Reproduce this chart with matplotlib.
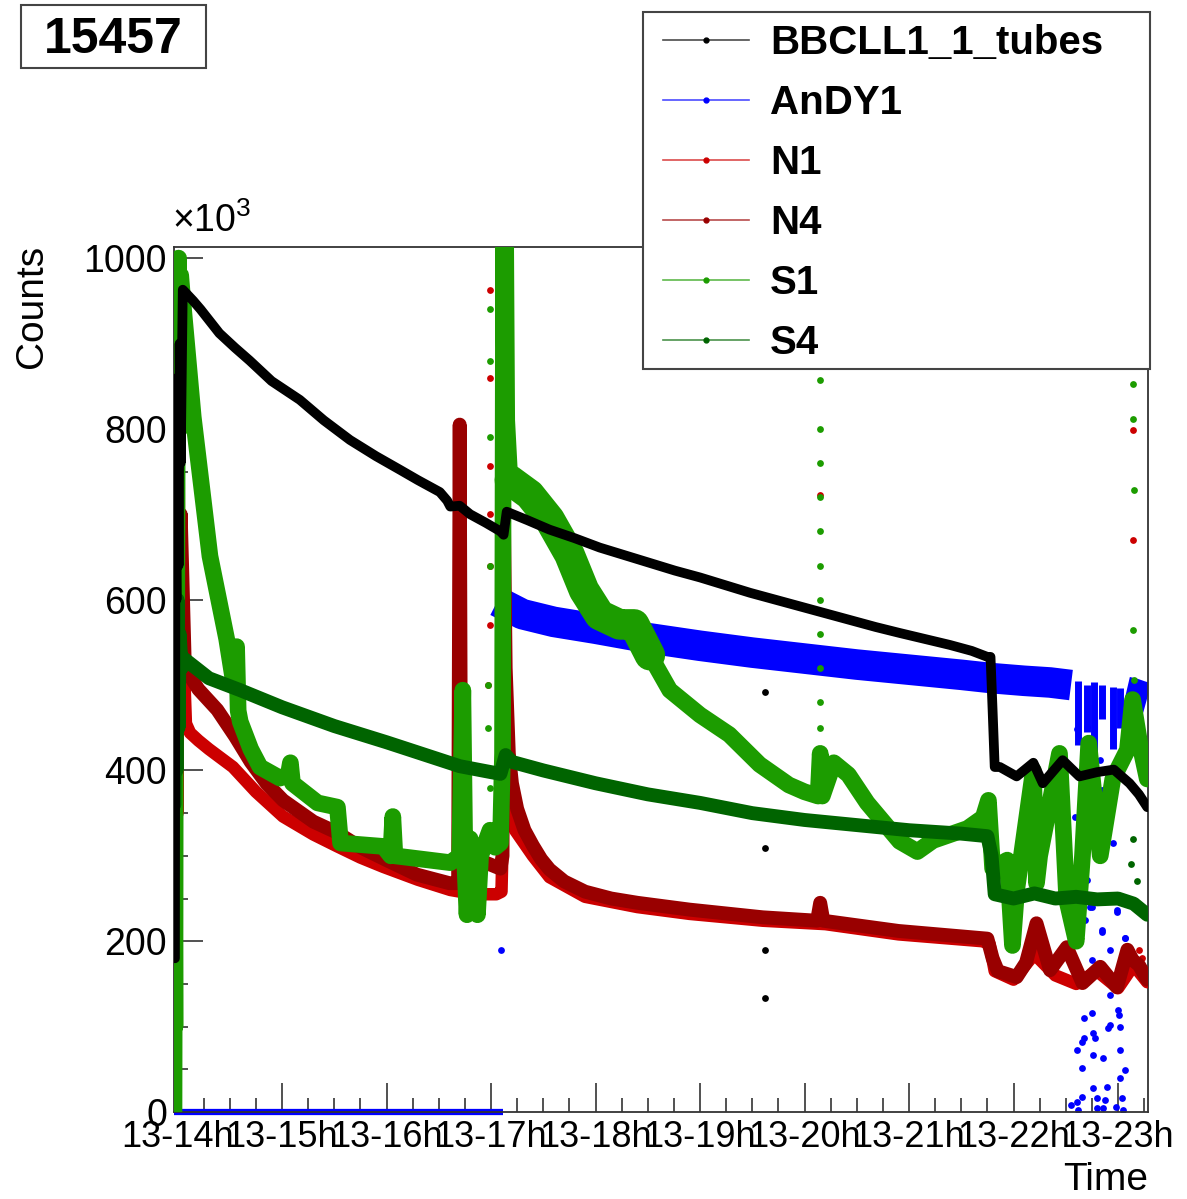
import matplotlib
matplotlib.use('Agg')
import matplotlib.pyplot as plt
import numpy as np
from matplotlib.patches import Rectangle
from matplotlib.lines import Line2D

plt.rcParams['font.family'] = ['Liberation Sans', 'DejaVu Sans']
plt.rcParams['mathtext.fontset'] = 'custom'
plt.rcParams['mathtext.rm'] = 'Liberation Sans'

W, H = 1187, 1199  # output size in pixels


def fx(x):
    return x / W


def fy(y):
    return 1 - y / H


# ---- data: time in hours (day 13), counts in thousands ----
run_number = "15457"
series_names = ["BBCLL1_1_tubes", "AnDY1", "N1", "N4", "S1", "S4"]
series_colors = ["#000000", "#0000ff", "#cc0000", "#990000", "#1c9c00", "#006400"]
hour_ticks = list(range(14, 24))
hour_labels = ["13-%dh" % h for h in hour_ticks]

bbc = [(13.975, 180), (13.98, 720), (13.99, 600), (14.00, 860), (14.01, 640), (14.02, 900),
       (14.03, 760), (14.05, 963), (14.15, 950), (14.22, 940), (14.4, 912), (14.55, 895),
       (14.69, 880), (14.9, 856), (15.17, 834), (15.4, 810), (15.65, 787), (15.9, 768),
       (16.13, 752), (16.3, 740), (16.51, 726), (16.58, 716), (16.61, 709), (16.70, 710),
       (16.80, 700), (16.95, 690), (17.09, 680), (17.12, 676), (17.15, 703), (17.35, 693),
       (17.56, 682), (17.8, 672), (18.04, 661), (18.28, 652), (18.52, 643), (18.76, 634),
       (19.0, 626), (19.24, 617), (19.48, 608), (19.72, 600), (19.96, 592), (20.2, 584),
       (20.44, 576), (20.68, 568), (20.91, 561), (21.15, 554), (21.39, 547), (21.6, 540),
       (21.75, 533), (21.78, 533), (21.80, 470), (21.82, 404), (21.87, 404), (22.03, 393),
       (22.19, 409), (22.28, 385), (22.47, 412), (22.63, 393), (22.80, 398), (22.96, 401),
       (23.11, 385), (23.2, 372), (23.28, 357)]
bbc_dots = [(19.62, 492), (19.62, 309), (19.62, 190), (19.62, 134), (17.13, 688)]

andy_off = [(13.966, 0), (17.11, 0)]
andy = [(17.06, 598), (17.3, 583), (17.6, 574), (18.0, 566), (18.5, 555), (19.0, 546),
        (19.5, 538), (20.0, 531), (20.5, 524), (21.0, 518), (21.5, 512), (21.8, 508),
        (22.1, 505), (22.35, 503), (22.55, 500), (np.nan, np.nan),
        (23.08, 492), (23.15, 490), (23.22, 487), (23.28, 485)]
andy_streak_t = [22.62, 22.70, 22.77, 22.85, 22.95, 23.02]
andy_streak_lo = [430, 445, 415, 460, 425, 450]
andy_streak_hi = [505, 500, 503, 500, 498, 496]
andy_dots = [(17.10, 190), (22.61, 448), (22.70, 451), (22.76, 412), (22.83, 412), (22.59, 346),
             (22.85, 377), (22.70, 272), (22.73, 240), (22.95, 315), (22.99, 237), (22.85, 213),
             (23.07, 204), (22.85, 211), (22.92, 190), (22.75, 178), (23.07, 204), (22.99, 234),
             (22.75, 240), (22.68, 225), (22.67, 110), (22.75, 116), (22.67, 87), (22.66, 82),
             (22.76, 92), (22.78, 87), (22.61, 73), (22.66, 52), (22.76, 67), (22.86, 63),
             (22.90, 98), (22.92, 102), (23.00, 120), (23.01, 114), (23.02, 100), (23.02, 73),
             (23.07, 49), (23.02, 40), (22.76, 28), (22.89, 29), (22.66, 18), (22.61, 12),
             (22.80, 16), (22.88, 14), (23.04, 16), (22.62, 2), (22.80, 5), (22.86, 5),
             (23.05, 2), (22.92, 137), (22.55, 8), (22.98, 6)]

n1 = [(13.966, 0), (13.97, 150), (13.975, 40), (13.98, 420), (13.985, 250), (13.99, 600),
      (14.0, 350), (14.01, 780), (14.02, 520), (14.03, 700), (14.05, 560), (14.08, 455),
      (14.12, 444), (14.2, 435), (14.3, 425), (14.53, 404), (14.75, 375), (15.01, 346),
      (15.3, 325), (15.53, 311), (15.75, 298), (15.97, 287), (16.3, 272), (16.61, 260),
      (16.8, 256), (16.95, 255), (17.05, 255), (17.10, 258), (17.13, 420), (17.16, 360),
      (17.23, 330), (17.4, 300), (17.56, 275), (17.9, 252), (18.4, 240), (18.9, 232),
      (19.6, 224), (20.2, 220), (20.9, 208), (21.7, 200), (21.77, 197), (21.82, 165),
      (22.0, 155), (22.2, 185), (22.4, 160), (22.6, 150), (22.8, 165), (23.0, 145),
      (23.15, 172), (23.28, 152)]
n1_dots = [(16.99, 963), (16.99, 860), (16.99, 757), (16.99, 700), (16.99, 640), (16.99, 570),
           (16.97, 500), (20.15, 723), (20.15, 406), (23.14, 799), (23.14, 670), (23.2, 190),
           (23.23, 180)]

n4 = [(13.99, 500), (14.03, 700), (14.07, 520), (14.2, 495), (14.38, 471), (14.55, 440),
      (14.7, 410), (14.85, 385), (15.01, 365), (15.3, 340), (15.53, 327), (15.75, 310),
      (16.0, 295), (16.29, 278), (16.6, 268), (16.685, 268), (16.70, 805), (16.715, 270),
      (16.8, 285), (16.95, 292), (17.09, 285), (17.11, 300), (17.12, 730), (17.14, 520),
      (17.17, 420), (17.2, 385), (17.25, 355), (17.32, 330), (17.4, 312), (17.48, 296),
      (17.56, 284), (17.7, 270), (17.9, 258), (18.15, 250), (18.4, 245), (18.9, 237),
      (19.6, 228), (20.12, 224), (20.15, 245), (20.18, 224), (20.9, 212), (21.75, 203),
      (21.80, 180), (21.85, 165), (22.03, 158), (22.12, 175), (22.22, 221), (22.35, 166),
      (22.51, 193), (22.66, 151), (22.83, 170), (22.99, 146), (23.09, 190), (23.14, 178),
      (23.20, 172), (23.28, 155)]

s1 = [(13.966, 0), (13.97, 300), (13.975, 100), (13.98, 700), (13.99, 500), (14.0, 950),
      (14.01, 1000), (14.02, 800), (14.03, 980), (14.05, 950), (14.15, 814), (14.31, 651),
      (14.47, 554), (14.54, 500), (14.565, 545), (14.58, 470), (14.60, 457), (14.7, 425),
      (14.79, 404), (14.98, 391), (15.06, 395), (15.08, 409), (15.10, 385), (15.34, 362),
      (15.53, 357), (15.56, 315), (15.97, 311), (16.04, 300), (16.06, 346), (16.08, 300),
      (16.61, 292), (16.70, 300), (16.73, 494), (16.75, 290), (16.77, 231), (16.80, 320),
      (16.84, 290), (16.87, 231), (16.90, 300), (16.99, 330), (17.04, 310), (17.09, 315),
      (17.11, 420), (17.12, 1013), (17.13, 850), (17.14, 1013), (17.15, 810), (17.18, 740),
      (17.37, 723), (17.56, 694), (17.75, 653), (17.89, 611), (18.04, 582), (18.23, 571),
      (18.37, 571), (18.52, 535), (18.71, 494), (19.0, 465), (19.28, 442), (19.57, 407),
      (19.85, 383), (20.0, 375), (20.13, 370), (20.15, 420), (20.17, 370), (20.28, 409),
      (20.42, 395), (20.6, 362), (20.91, 317), (21.08, 305), (21.23, 318), (21.56, 332),
      (21.71, 345), (21.76, 365), (21.80, 285), (21.94, 295), (21.99, 195), (22.03, 260),
      (22.19, 400), (22.22, 268), (22.25, 300), (22.44, 420), (22.51, 248), (22.6, 200),
      (22.66, 300), (22.72, 432), (22.83, 300), (22.95, 390), (23.09, 424), (23.14, 483),
      (23.21, 430), (23.28, 390)]
s1_dots = [(20.15, 857), (20.15, 800), (20.15, 760), (20.15, 720), (20.15, 680), (20.15, 640),
           (20.15, 600), (20.15, 560), (20.15, 520), (20.15, 480), (20.15, 450),
           (16.99, 940), (16.99, 880), (16.99, 790), (16.99, 640), (16.97, 500), (16.97, 450),
           (16.99, 380), (23.14, 852), (23.14, 811), (23.15, 729), (23.14, 565), (23.15, 506)]

s4 = [(13.97, 360), (13.98, 540), (13.99, 400), (14.0, 600), (14.01, 450), (14.02, 560),
      (14.04, 520), (14.05, 532), (14.3, 508), (14.6, 494), (15.0, 474), (15.5, 452),
      (16.0, 433), (16.5, 413), (16.7, 405), (17.0, 398), (17.09, 396), (17.14, 418),
      (17.2, 410), (17.5, 400), (18.0, 385), (18.5, 372), (19.0, 362), (19.5, 350),
      (20.0, 342), (20.5, 336), (21.0, 330), (21.5, 326), (21.75, 323), (21.79, 300),
      (21.82, 255), (22.0, 250), (22.2, 256), (22.4, 250), (22.6, 252), (22.8, 249),
      (23.0, 250), (23.15, 244), (23.28, 231)]
s4_dots = [(23.12, 290), (23.14, 320), (23.18, 270)]

# ---- figure ----
fig = plt.figure(figsize=(W / 100, H / 100), dpi=100)
ax = fig.add_axes([fx(174), fy(1112), fx(1148) - fx(174), fy(247) - fy(1112)])

dot_size = 24


def draw(pairs, color, lw, z, cap='round', t0=None, t1=None):
    a = np.array(pairs, dtype=float)
    if t0 is not None:
        keep = (a[:, 0] >= t0) & (a[:, 0] <= t1)
        a = a[keep]
    ax.plot(a[:, 0], a[:, 1], color=color, lw=lw, zorder=z,
            solid_joinstyle='round', solid_capstyle=cap)


def dots(pairs, color, z):
    a = np.array(pairs, dtype=float)
    ax.scatter(a[:, 0], a[:, 1], s=dot_size, color=color, zorder=z, lw=0)


# AnDY1
a0 = np.array(andy_off)
ax.plot(a0[:, 0], a0[:, 1], color=series_colors[1], lw=4.5, zorder=2,
        clip_on=False, solid_capstyle='butt')
draw(andy, series_colors[1], 22, 2, cap='butt')
ax.vlines(andy_streak_t, andy_streak_lo, andy_streak_hi, color=series_colors[1], lw=5, zorder=2)
dots(andy_dots, series_colors[1], 2)

# N1, N4
draw(n1, series_colors[2], 9, 3)
dots(n1_dots, series_colors[2], 3)
draw(n4, series_colors[3], 10, 4)

# S1 (band is wider just after the 17h refill), S4
draw(s1, series_colors[4], 12, 5)
draw(s1, series_colors[4], 22, 5, t0=17.18, t1=18.6)
dots(s1_dots, series_colors[4], 5)
draw(s4, series_colors[5], 10, 6)
dots(s4_dots, series_colors[5], 6)

# BBC on top
draw(bbc, series_colors[0], 7, 7)
dots(bbc_dots, series_colors[0], 7)

ax.set_xlim(13.966, 23.287)
ax.set_ylim(0, 1013)
ax.set_xticks(hour_ticks)
ax.set_xticklabels(hour_labels)
ax.set_xticks(np.arange(14.0, 23.29, 0.25), minor=True)
ax.set_yticks(np.arange(0, 1001, 200))
ax.set_yticks(np.arange(0, 1013, 50), minor=True)
ax.tick_params(which='both', direction='in', top=False, right=False, width=1.1, color='#222222')
ax.tick_params(which='major', length=21)
ax.tick_params(which='minor', length=10)
ax.tick_params(axis='x', labelsize=26, pad=6)
ax.tick_params(axis='y', labelsize=27, pad=5)
for s in ax.spines.values():
    s.set_linewidth(1.3)
    s.set_color('#333333')

# axis texts
fig.text(fx(172), fy(240), r'$\times10^{3}$', fontsize=27, ha='left', va='bottom')
fig.text(fx(32), fy(245), 'Counts', rotation=90, fontsize=28, ha='center', va='top')
fig.text(fx(1148), fy(1180), 'Time', fontsize=28, ha='right', va='center')

# run number box
fig.patches.append(Rectangle((fx(21), fy(68)), fx(206) - fx(21), fy(5) - fy(68),
                             transform=fig.transFigure, fill=False,
                             edgecolor='#444444', lw=1.5))
fig.text(fx(113), fy(40), run_number, fontsize=36, fontweight='bold', ha='center', va='center')

# legend box
fig.patches.append(Rectangle((fx(643), fy(369)), fx(1150) - fx(643), fy(12) - fy(369),
                             transform=fig.transFigure, facecolor='white',
                             edgecolor='#444444', lw=1.5, zorder=10))
for i, (name, col) in enumerate(zip(series_names, series_colors)):
    yy = fy(40 + 60 * i)
    fig.lines.append(Line2D([fx(663), fx(749)], [yy, yy], color=col, lw=1.2, alpha=0.7,
                            transform=fig.transFigure, zorder=11))
    fig.lines.append(Line2D([fx(706)], [yy], color=col, marker='o', ms=3.5, lw=0,
                            transform=fig.transFigure, zorder=12))
    fig.text(fx(770), fy(43 + 60 * i), name, fontsize=29, fontweight='bold',
             ha='left', va='center', zorder=12)

fig.savefig('out.png', dpi=100)
